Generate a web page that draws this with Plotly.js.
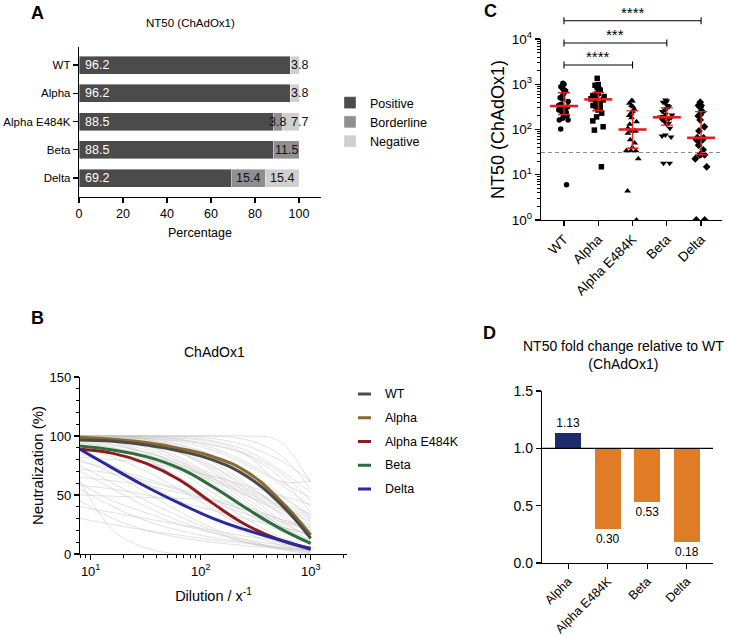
<!DOCTYPE html>
<html>
<head>
<meta charset="utf-8">
<script src="https://cdn.plot.ly/plotly-3.0.1.min.js"></script>
<style>
  body { margin: 0; background: #fff; }
  #plot { width: 729px; height: 636px; }
</style>
</head>
<body>
<div id="plot"></div>
<script>
// ---------- data ----------
const variants = ["WT", "Alpha", "Alpha E484K", "Beta", "Delta"];

// A : share of sera per category (%)
const positive   = [96.2, 96.2, 88.5, 88.5, 69.2];
const borderline = [0, 0, 3.8, 11.5, 15.4];
const negative   = [3.8, 3.8, 7.7, 0, 15.4];

// B : fitted neutralisation curves (%), read along the dilution axis
const dilution  = [8, 16, 32, 64.5, 129, 260, 524, 1000];
const fitWT     = [96.6, 95.5, 92.4, 87.3, 79.7, 66.1, 42.9, 13.3];
const fitAlpha  = [98.9, 97.2, 94.4, 89.5, 82.5, 69.8, 45.8, 16.1];
const fitE484K  = [88.7, 85.3, 76.8, 62.7, 42.9, 24.6, 11.9, 4.8];
const fitBeta   = [91.5, 88.1, 82.5, 72.6, 57, 38.7, 21.7, 9];
const fitDelta  = [88.7, 72.6, 57, 42.9, 30.2, 20.3, 11.9, 4];

// B : individual sera (grey background curves)
const serumDilution = [8, 16, 32, 64, 128, 256, 512, 1000];
const serumCurves = [
  [100, 100, 100, 100, 100, 100, 96, 60],
  [100, 100, 99, 98, 95, 85, 62, 62],
  [100, 99, 97, 92, 82, 65, 45, 25],
  [100, 98, 95, 88, 75, 55, 35, 15],
  [100, 97, 92, 82, 65, 45, 25, 10],
  [98, 95, 88, 75, 58, 40, 22, 8],
  [100, 100, 98, 95, 88, 76, 60, 40],
  [95, 90, 80, 65, 48, 30, 15, 5],
  [90, 82, 70, 55, 38, 22, 10, 3],
  [85, 75, 60, 45, 30, 18, 8, 2],
  [80, 68, 52, 36, 22, 12, 5, 1],
  [100, 99, 98, 96, 92, 85, 70, 45],
  [75, 60, 45, 32, 20, 10, 4, 0],
  [70, 55, 40, 28, 18, 10, 5, 2],
  [60, 45, 35, 25, 18, 12, 8, 5],
  [100, 96, 85, 70, 52, 35, 20, 12],
  [55, 40, 28, 20, 14, 10, 6, 3],
  [100, 100, 100, 97, 90, 78, 62, 48],
  [45, 30, 20, 14, 10, 7, 5, 3],
  [88, 85, 80, 72, 62, 50, 38, 28],
  [100, 98, 92, 80, 62, 42, 25, 12],
  [65, 62, 58, 52, 45, 38, 30, 22],
  [40, 35, 30, 25, 20, 15, 12, 10],
  [100, 95, 82, 62, 40, 22, 10, 4],
  [92, 88, 82, 74, 64, 52, 40, 30],
  [50, 49, 48, 47, 46, 40, 30, 20],
  [62, 20, 5, 0, 0, 0, 0, 0],
  [100, 100, 100, 100, 98, 92, 80, 62],
  [97, 93, 86, 76, 64, 50, 36, 24],
  [78, 72, 64, 55, 46, 37, 28, 20],
  [100, 100, 97, 90, 78, 60, 40, 18],
  [30, 25, 20, 16, 12, 9, 6, 4],
  [100, 100, 99, 97, 93, 84, 66, 35],
  [100, 99, 96, 90, 80, 66, 50, 33],
  [99, 97, 93, 86, 74, 58, 40, 22],
  [100, 100, 100, 99, 96, 88, 72, 52],
  [96, 92, 86, 78, 68, 56, 44, 34],
  [100, 98, 94, 86, 72, 52, 30, 14],
  [82, 80, 77, 72, 66, 58, 50, 42],
  [100, 100, 98, 93, 84, 70, 52, 30],
  [72, 68, 62, 54, 44, 34, 24, 16],
  [100, 97, 90, 78, 60, 40, 22, 8],
  [94, 90, 84, 76, 66, 54, 42, 32],
  [100, 100, 100, 100, 100, 97, 85, 55],
  [58, 55, 50, 44, 37, 30, 23, 17],
  [100, 99, 95, 86, 70, 48, 28, 15]
];

// C : NT50 per serum
const nt50WT    = [1050, 1000, 885, 790, 750, 710, 630, 560, 505, 475, 415, 363, 340, 320, 300, 295, 270, 250, 240, 218, 200, 178, 163, 163, 102, 6];
const nt50Alpha = [1350, 980, 950, 850, 790, 740, 630, 600, 560, 535, 535, 500, 475, 450, 415, 380, 340, 320, 295, 270, 230, 190, 155, 115, 97, 15];
const nt50E484K = [430, 425, 380, 340, 320, 280, 250, 230, 205, 182, 148, 131, 107, 93, 93, 93, 83, 59, 50, 40, 34, 34, 34, 22.6, 4.4, 1];
const nt50Beta  = [450, 425, 400, 380, 340, 320, 295, 270, 250, 218, 210, 195, 190, 182, 178, 171, 165, 148, 138, 131, 107, 76, 72, 68, 18, 18];
const nt50Delta = [400, 340, 340, 310, 248, 248, 248, 210, 200, 163, 115, 93, 66, 65, 59, 59, 59, 45, 35.5, 28, 27.5, 27.5, 22.6, 15, 1, 1];
const cutoff = 31;
const comparisons = [["WT", "Alpha E484K", "****"], ["WT", "Beta", "***"], ["WT", "Delta", "****"]];

// D : fold change of NT50 relative to WT
const foldVariants = ["Alpha", "Alpha E484K", "Beta", "Delta"];
const foldChange   = [1.13, 0.30, 0.53, 0.18];

// ---------- helpers ----------
const W = 729, H = 636;
const px = v => v / W;
const py = v => 1 - v / H;
const FONT = "Liberation Sans, Arial, Helvetica, sans-serif";

function quant(arr, p) {
  const s = arr.slice().sort((a, b) => a - b);
  const pos = (s.length + 1) * p - 1;
  const lo = Math.max(0, Math.floor(pos));
  const hi = Math.min(s.length - 1, lo + 1);
  return s[lo] + (s[hi] - s[lo]) * (pos - lo);
}

const baseAxis = {
  showline: true, linecolor: "#000", linewidth: 1.2,
  ticks: "outside", tickcolor: "#000", tickwidth: 1.2, ticklen: 5,
  showgrid: false, zeroline: false, fixedrange: true,
  tickfont: { family: FONT, size: 12, color: "#000" }
};
const ax = extra => Object.assign({}, baseAxis, extra);

const logMinor = (lo, hi) => {
  const out = [];
  for (let d = 1; d <= 1000; d *= 10)
    for (let k = 2; k <= 9; k++) {
      const v = k * d;
      if (v >= lo && v <= hi) out.push(v);
    }
  return out;
};

const traces = [];
const shapes = [];
const annotations = [];

// ---------- A : stacked horizontal bars ----------
const catColors = { Positive: "#4b4b4b", Borderline: "#8f8f8f", Negative: "#cfcfcf" };
[["Positive", positive], ["Borderline", borderline], ["Negative", negative]].forEach(([name, vals]) => {
  traces.push({
    type: "bar", orientation: "h", name: name,
    x: vals, y: variants, xaxis: "x", yaxis: "y", width: 0.64,
    marker: { color: catColors[name], line: { color: "#fff", width: 0.4 } },
    hoverinfo: "skip", legend: "legend"
  });
});

variants.forEach((v, i) => {
  annotations.push({
    xref: "x", yref: "y", x: 0, y: i, xanchor: "left", xshift: 4,
    text: positive[i].toFixed(1), showarrow: false,
    font: { family: FONT, size: 12.5, color: "#fff" }
  });
  const segs = [[borderline[i], positive[i], false], [negative[i], positive[i] + borderline[i], true]];
  segs.forEach(([w, start, last]) => {
    if (w <= 0) return;
    const end = start + w;
    const cx = (last && w < 9) ? Math.min(end, 100) : start + w / 2;
    annotations.push({
      xref: "x", yref: "y", x: cx, y: i, xanchor: "center",
      text: w.toFixed(1), showarrow: false,
      font: { family: FONT, size: 12.5, color: "#111" }
    });
  });
});

// ---------- B : neutralisation curves ----------
serumCurves.forEach(c => {
  traces.push({
    type: "scatter", mode: "lines", x: serumDilution, y: c,
    xaxis: "x3", yaxis: "y3", showlegend: false, hoverinfo: "skip",
    line: { color: "rgba(195,195,195,0.5)", width: 1, shape: "spline", smoothing: 1 }
  });
});
const fitNames  = ["WT", "Alpha", "Alpha E484K", "Beta", "Delta"];
const fitColors = ["#4a4a4a", "#8b6a2e", "#8e1c1c", "#2f6d3e", "#29299a"];
const fits = [fitWT, fitAlpha, fitE484K, fitBeta, fitDelta];
[1, 2, 3, 4, 0].forEach(k => {
  traces.push({
    type: "scatter", mode: "lines", x: dilution, y: fits[k], name: fitNames[k],
    xaxis: "x3", yaxis: "y3", showlegend: false, hoverinfo: "skip",
    line: { color: fitColors[k], width: 3, shape: "spline", smoothing: 1.3 }
  });
});
fitNames.forEach((n, i) => {
  const yy = 394 + i * 23.75;
  shapes.push({ type: "line", xref: "paper", yref: "paper", x0: px(358), x1: px(371), y0: py(yy), y1: py(yy),
    line: { color: fitColors[i], width: 3 } });
  annotations.push({ xref: "paper", yref: "paper", x: px(383), y: py(yy), xanchor: "left", yanchor: "middle",
    text: n, showarrow: false, font: { family: FONT, size: 12.5, color: "#000" } });
});

// ---------- C : NT50 scatter with median / IQR ----------
const groups = [nt50WT, nt50Alpha, nt50E484K, nt50Beta, nt50Delta];
const symbols = ["circle", "square", "triangle-up", "triangle-down", "diamond"];
groups.forEach((g, i) => {
  traces.push({
    type: "box", x: g.map(() => variants[i]), y: g,
    xaxis: "x2", yaxis: "y2", showlegend: false, hoverinfo: "skip",
    boxpoints: "all", jitter: 0.75, pointpos: 0, width: 0.6,
    fillcolor: "rgba(0,0,0,0)", line: { color: "rgba(0,0,0,0)", width: 0 },
    marker: { symbol: symbols[i], size: i >= 2 ? 6 : 5.5, color: "#000" }
  });
});
const med = groups.map(g => quant(g, 0.5));
const q1  = groups.map(g => quant(g, 0.25));
const q3  = groups.map(g => quant(g, 0.75));
traces.push({
  type: "scatter", mode: "markers", x: variants, y: med,
  xaxis: "x2", yaxis: "y2", showlegend: false, hoverinfo: "skip",
  marker: { symbol: "line-ew", size: 20, line: { color: "#e0201e", width: 2.6 } },
  error_y: { type: "data", symmetric: false, array: q3.map((v, i) => v - med[i]),
    arrayminus: med.map((v, i) => v - q1[i]), color: "#e0201e", thickness: 1.4, width: 6 }
});

const cDom = [py(220), py(39)];
const cY = v => cDom[0] + Math.log10(v) / 4 * (cDom[1] - cDom[0]);
shapes.push({ type: "line", xref: "x2 domain", yref: "paper", x0: 0, x1: 1, y0: cY(cutoff), y1: cY(cutoff),
  line: { color: "#8a8a8a", width: 1, dash: "4px,3px" } });

const bracketY = [65, 43, 20.7];
comparisons.forEach(([a, b, stars], k) => {
  const xa = variants.indexOf(a), xb = variants.indexOf(b);
  const yy = py(bracketY[k]);
  const t = 3.5 / H;
  shapes.push({ type: "line", xref: "x2", yref: "paper", x0: xa, x1: xb, y0: yy, y1: yy, line: { color: "#000", width: 1.1 } });
  shapes.push({ type: "line", xref: "x2", yref: "paper", x0: xa, x1: xa, y0: yy - t, y1: yy + t, line: { color: "#000", width: 1.1 } });
  shapes.push({ type: "line", xref: "x2", yref: "paper", x0: xb, x1: xb, y0: yy - t, y1: yy + t, line: { color: "#000", width: 1.1 } });
  annotations.push({ xref: "x2", yref: "paper", x: (xa + xb) / 2, y: yy, yanchor: "bottom", yshift: -2,
    text: stars, showarrow: false, font: { family: FONT, size: 15, color: "#000" } });
});

// ---------- D : fold change bars ----------
traces.push({
  type: "bar", x: foldVariants, y: foldChange.map(v => v - 1), base: 1,
  xaxis: "x4", yaxis: "y4", width: 0.66, showlegend: false, hoverinfo: "skip",
  marker: { color: foldChange.map(v => v >= 1 ? "#1d2a6b" : "#e07b26") },
  text: foldChange.map(v => v.toFixed(2)), textposition: "outside", cliponaxis: false,
  textfont: { family: FONT, size: 12, color: "#000" }
});
shapes.push({ type: "line", xref: "x4 domain", yref: "y4", x0: 0, x1: 1, y0: 1, y1: 1, line: { color: "#000", width: 1.2 } });

// ---------- titles and panel letters ----------
const txt = (x, y, text, size, extra) => Object.assign({
  xref: "paper", yref: "paper", x: px(x), y: py(y), text: text, showarrow: false,
  xanchor: "center", yanchor: "middle", font: { family: FONT, size: size, color: "#000" }
}, extra || {});
annotations.push(txt(37, 13, "<b>A</b>", 18));
annotations.push(txt(37, 318, "<b>B</b>", 18));
annotations.push(txt(490, 11, "<b>C</b>", 18));
annotations.push(txt(489, 333, "<b>D</b>", 18));
annotations.push(txt(190, 23, "NT50 (ChAdOx1)", 11.5));
annotations.push(txt(214, 352, "ChAdOx1", 14));
annotations.push(txt(623, 355, "NT50 fold change relative to WT<br>(ChAdOx1)", 14));

// ---------- layout ----------
const layout = {
  width: W, height: H,
  margin: { l: 0, r: 0, t: 0, b: 0 },
  paper_bgcolor: "#fff", plot_bgcolor: "rgba(0,0,0,0)",
  font: { family: FONT, color: "#000" },
  barmode: "stack", boxmode: "overlay", hovermode: false,
  legend: {
    x: px(330), y: py(88), xanchor: "left", yanchor: "top",
    font: { family: FONT, size: 12.5, color: "#000" }, bgcolor: "rgba(0,0,0,0)", traceorder: "normal"
  },
  // A
  xaxis: ax({ domain: [px(79), px(321)], anchor: "y", range: [0, 110], tickvals: [0, 20, 40, 60, 80, 100],
    tickfont: { family: FONT, size: 12.5, color: "#000" },
    title: { text: "Percentage", font: { family: FONT, size: 12.5 }, standoff: 8 } }),
  yaxis: ax({ domain: [py(197), py(47)], anchor: "x", type: "category", categoryorder: "array",
    categoryarray: variants, range: [4.67, -0.64], tickfont: { family: FONT, size: 11.5, color: "#000" } }),
  // C
  xaxis2: ax({ domain: [px(541), px(722)], anchor: "y2", type: "category", categoryorder: "array",
    categoryarray: variants, range: [-0.67, 4.61], tickangle: -45,
    tickfont: { family: FONT, size: 13.5, color: "#000" } }),
  yaxis2: ax({ domain: [py(220), py(39)], anchor: "x2", type: "log", range: [0, 4],
    tickvals: [1, 10, 100, 1000, 10000],
    ticktext: ["10<sup>0</sup>", "10<sup>1</sup>", "10<sup>2</sup>", "10<sup>3</sup>", "10<sup>4</sup>"],
    tickfont: { family: FONT, size: 13.5, color: "#000" },
    minor: { tickvals: logMinor(1, 10000), ticks: "outside", ticklen: 3, tickcolor: "#000", tickwidth: 1 },
    title: { text: "NT50 (ChAdOx1)", font: { family: FONT, size: 18 }, standoff: 2 } }),
  // B
  xaxis3: ax({ domain: [px(80), px(347)], anchor: "y3", type: "log", range: [Math.log10(8), 3.33],
    tickvals: [10, 100, 1000], ticktext: ["10<sup>1</sup>", "10<sup>2</sup>", "10<sup>3</sup>"],
    tickfont: { family: FONT, size: 13, color: "#000" },
    minor: { tickvals: logMinor(8, 2100), ticks: "outside", ticklen: 3, tickcolor: "#000", tickwidth: 1 },
    title: { text: "Dilution / x<sup>-1</sup>", font: { family: FONT, size: 14.5 }, standoff: 13 } }),
  yaxis3: ax({ domain: [py(554), py(377)], anchor: "x3", range: [0, 150], tickvals: [0, 50, 100, 150],
    tickfont: { family: FONT, size: 13, color: "#000" },
    minor: { dtick: 10, ticks: "outside", ticklen: 3, tickcolor: "#000", tickwidth: 1 },
    title: { text: "Neutralization (%)", font: { family: FONT, size: 15 }, standoff: 2 } }),
  // D
  xaxis4: ax({ domain: [px(542), px(713)], anchor: "y4", type: "category", categoryorder: "array",
    categoryarray: foldVariants, range: [-0.66, 3.66], tickangle: -45,
    tickfont: { family: FONT, size: 12.5, color: "#000" } }),
  yaxis4: ax({ domain: [py(563), py(391)], anchor: "x4", range: [0, 1.5], tickvals: [0, 0.5, 1, 1.5],
    ticktext: ["0.0", "0.5", "1.0", "1.5"], tickfont: { family: FONT, size: 14, color: "#000" } }),
  shapes: shapes,
  annotations: annotations
};

Plotly.newPlot("plot", traces, layout, { displayModeBar: false, staticPlot: true });
</script>
</body>
</html>
